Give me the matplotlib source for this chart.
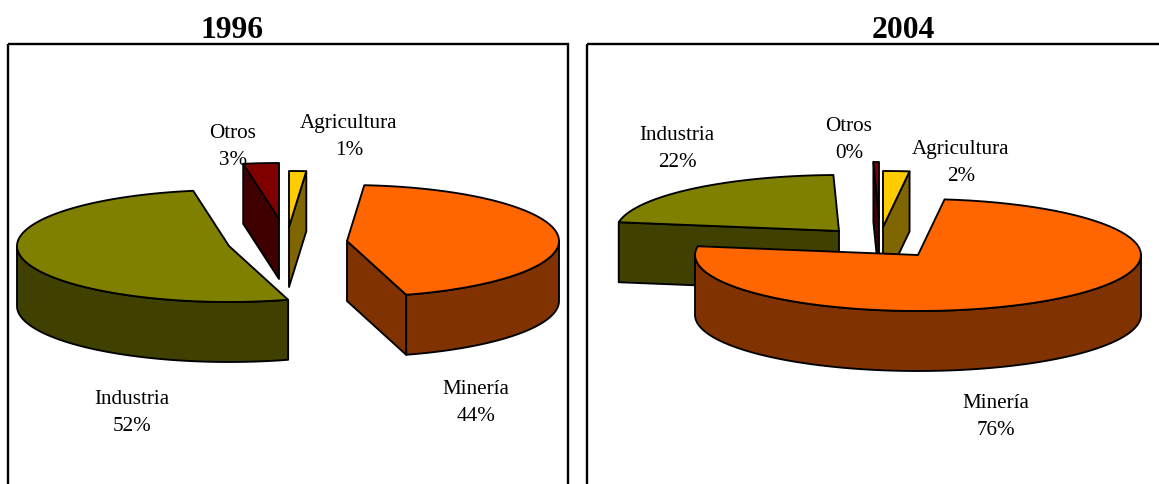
import matplotlib
matplotlib.use('Agg')
import matplotlib.pyplot as plt
from matplotlib.patches import Polygon, Rectangle
import numpy as np

plt.rcParams['font.family'] = ['Liberation Serif', 'DejaVu Serif']

WIDTH = 1159
HEIGHT = 485

categories = ['Agricultura', 'Minería', 'Industria', 'Otros']
values_1996 = [1.3, 44.2, 51.8, 2.7]
values_2004 = [1.9, 75.6, 22.1, 0.4]

top_colors = ['#FFCC00', '#FF6600', '#808000', '#800000']
side_colors = ['#806600', '#803300', '#404000', '#400000']

# layout in image pixels, same order as categories
tips_1996 = [(289, 227), (347, 241), (229, 246), (279, 219)]
tips_2004 = [(883, 227), (918, 255), (839, 231), (879, 218)]
labels_1996 = [(349, 136), (476, 402), (132, 412), (233, 146)]
labels_2004 = [(961, 162), (996, 416), (677, 148), (849, 139)]
order_1996 = [3, 0, 1, 2]
order_2004 = [2, 3, 0, 1]

RADIUS_Y = 56
DEPTH = 60
EDGE = 1.35


def rim(tip, a, start, end):
    angles = np.radians(np.linspace(start, end, 80))
    return np.column_stack([tip[0] + a * np.sin(angles), tip[1] - RADIUS_Y * np.cos(angles)])


def add_face(ax, points, color):
    ax.add_patch(Polygon(points, closed=True, facecolor=color, edgecolor='black',
                         linewidth=EDGE, joinstyle='round'))


def draw_wedge(ax, tip, a, start, end, top, side):
    tip_pt = np.array(tip, dtype=float)
    drop = np.array([0, DEPTH])

    # cut faces, only the ones turned towards the viewer
    for angle, normal in [(start, start - 90), (end, end + 90)]:
        if np.cos(np.radians(normal)) < -1e-6:
            outer = rim(tip, a, angle, angle)[0]
            add_face(ax, [outer, tip_pt, tip_pt + drop, outer + drop], side)

    # outer wall, front half of the ellipse
    wall_start = max(start, 90)
    wall_end = min(end, 270)
    if wall_start < wall_end:
        arc = rim(tip, a, wall_start, wall_end)
        add_face(ax, np.vstack([arc, arc[::-1] + drop]), side)

    arc = rim(tip, a, start, end)
    add_face(ax, np.vstack([[tip_pt], arc]), top)


def draw_pie(ax, values, tips, a, order, label_pos):
    edges = np.concatenate([[0], np.cumsum(values)]) / sum(values) * 360
    for i in order:
        draw_wedge(ax, tips[i], a, edges[i], edges[i + 1], top_colors[i], side_colors[i])
    for i, name in enumerate(categories):
        x, y = label_pos[i]
        ax.text(x, y, f'{name}\n{round(values[i])}%', ha='center', va='center',
                fontsize=15.2, linespacing=1.56, color='black')


fig = plt.figure(figsize=(WIDTH / 100, HEIGHT / 100), dpi=100)
ax = fig.add_axes([0, 0, 1, 1])
ax.set_xlim(0, WIDTH)
ax.set_ylim(HEIGHT - 1, -1)
ax.axis('off')

ax.add_patch(Rectangle((8, 44), 560, 500, fill=False, edgecolor='black', linewidth=1.7))
ax.add_patch(Rectangle((587, 44), 600, 500, fill=False, edgecolor='black', linewidth=1.7))

ax.text(232, 29.5, '1996', ha='center', va='center', fontsize=22.7, fontweight='bold')
ax.text(903, 29.5, '2004', ha='center', va='center', fontsize=22.7, fontweight='bold')

draw_pie(ax, values_1996, tips_1996, 212, order_1996, labels_1996)
draw_pie(ax, values_2004, tips_2004, 223, order_2004, labels_2004)

fig.savefig('out.png', dpi=100)
